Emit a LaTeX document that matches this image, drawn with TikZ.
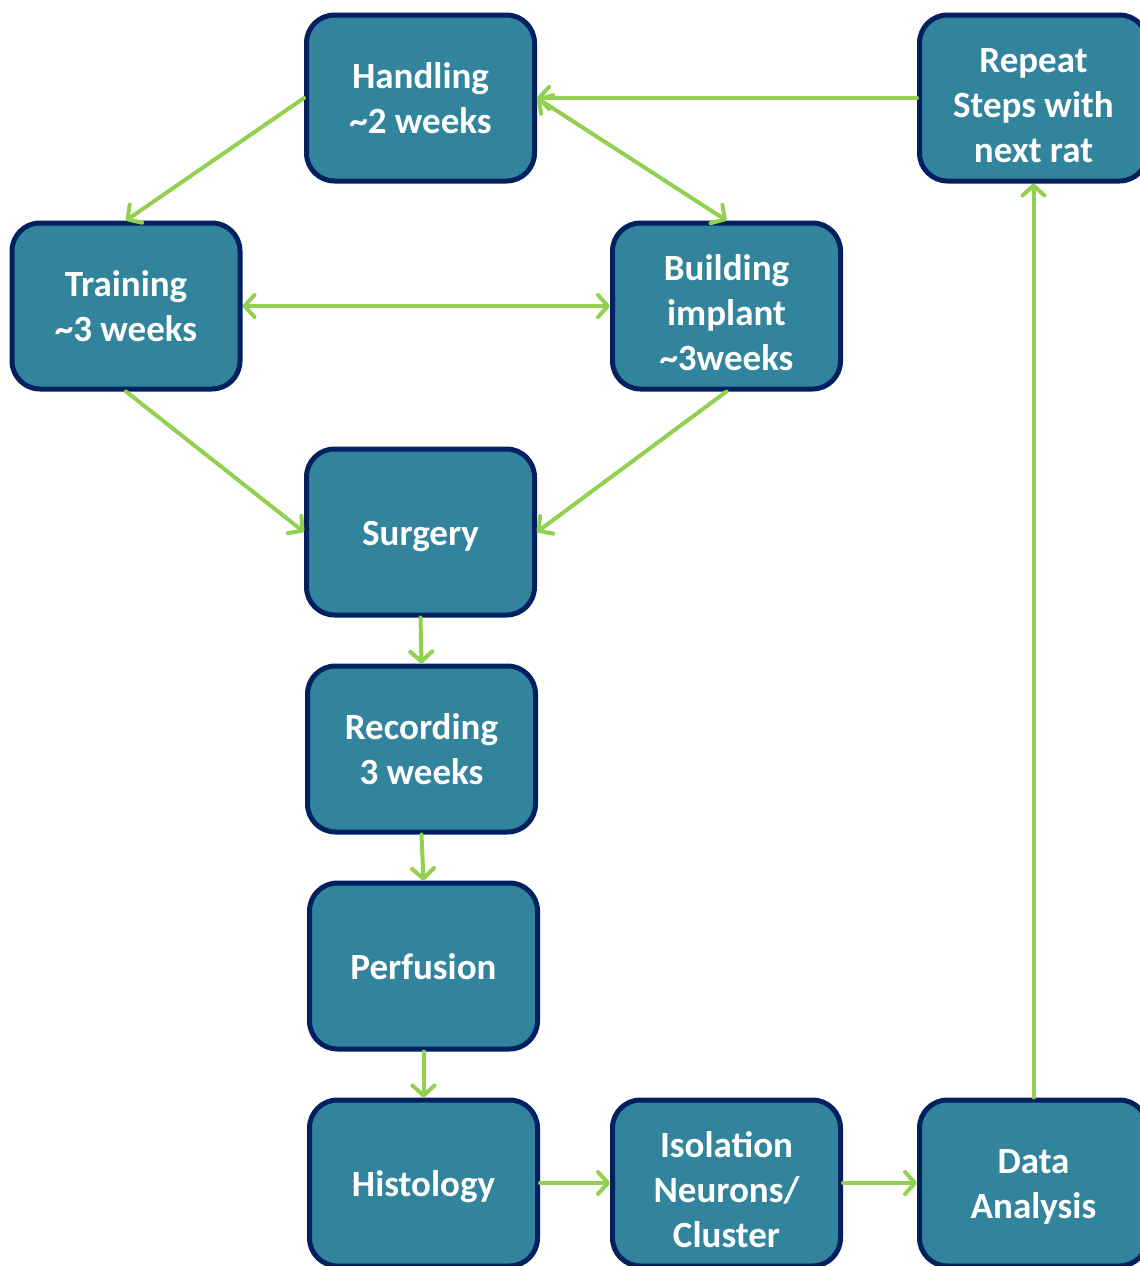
\documentclass[tikz,border=0pt]{standalone}
\usepackage{fontspec}
\setmainfont{Carlito}
\usepackage{xcolor}
\usepackage{tikz}
\usetikzlibrary{shapes,arrows,positioning,calc,arrows.meta}

\definecolor{stagefill}{HTML}{31849B}
\definecolor{stageline}{HTML}{002060}
\definecolor{flowgreen}{HTML}{92D050}

% stacked lines, dropped a little
\newcommand{\stagelines}[2][4pt]{\raisebox{-#1}[\height][\depth]{\begin{tabular}{@{}c@{}}#2\end{tabular}}}

\tikzset{
    stage/.style={draw=stageline, line width=5pt, fill=stagefill, rounded corners=28pt,
        minimum width=228pt, minimum height=166pt, text=white,
        font=\fontsize{37}{45}\selectfont\bfseries},
    flow/.style={draw=flowgreen, line width=4pt, line cap=round,
        arrows={-Straight Barb[length=10pt, width=22pt, round]}},
    twoway/.style={flow, arrows={Straight Barb[length=10pt, width=22pt, round]-Straight Barb[length=10pt, width=22pt, round]}}
}

\begin{document}
\begin{tikzpicture}[x=1pt, y=-1pt]
    \useasboundingbox (0, 0) rectangle (1140, 1266);

    % Top row
    \node [stage] (handling) at (420.5, 98) {\stagelines{Handling\\\textasciitilde 2 weeks}};
    \node [stage] (repeat) at (1033.5, 98) {\stagelines[10pt]{Repeat\\Steps with\\next rat}};

    % Preparation
    \node [stage] (training) at (126, 306) {\stagelines{Training\\\textasciitilde 3 weeks}};
    \node [stage] (building) at (726.5, 306) {\stagelines[10pt]{Building\\implant\\\textasciitilde 3weeks}};

    % Experiment chain
    \node [stage] (surgery) at (420.5, 532) {\stagelines{Surgery}};
    \node [stage] (recording) at (421.5, 749) {\stagelines{Recording\\3 weeks}};
    \node [stage] (perfusion) at (423.5, 966) {\stagelines{Perfusion}};
    \node [stage] (histology) at (423.5, 1183) {\stagelines{Histology}};

    % Analysis
    \node [stage] (isolation) at (726.5, 1183) {\stagelines[10pt]{Isolation\\Neurons/\\Cluster}};
    \node [stage] (data) at (1033.5, 1183) {\stagelines{Data\\Analysis}};

    % Arrows
    \draw [flow] (handling.west) -- (training.north);
    \draw [twoway] (handling.east) -- (building.north);
    \draw [twoway] (training.east) -- (building.west);
    \draw [flow] (training.south) -- (surgery.west);
    \draw [flow] (building.south) -- (surgery.east);
    \draw [flow] (surgery.south) -- (recording.north);
    \draw [flow] (recording.south) -- (perfusion.north);
    \draw [flow] (perfusion.south) -- (histology.north);
    \draw [flow] (histology.east) -- (isolation.west);
    \draw [flow] (isolation.east) -- (data.west);
    \draw [flow] (data.north) -- (repeat.south);
    \draw [flow] (repeat.west) -- (handling.east);
\end{tikzpicture}
\end{document}
